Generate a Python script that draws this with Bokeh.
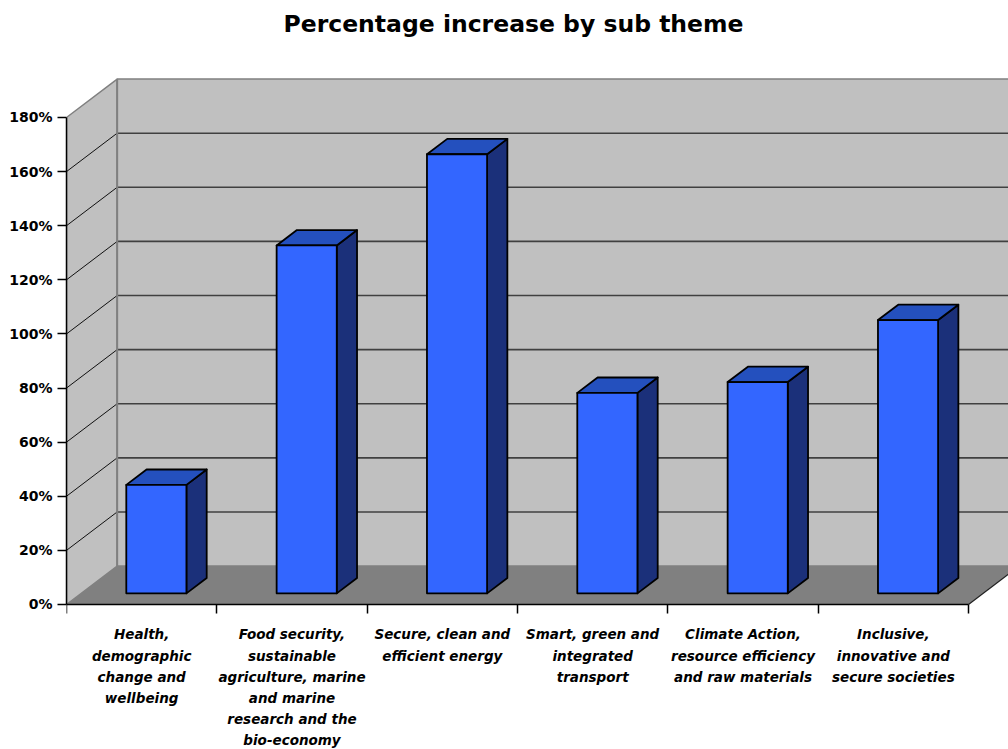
from bokeh.plotting import figure
from bokeh.models import Range1d, LinearAxis, FixedTicker, PrintfTickFormatter, ColumnDataSource
from bokeh.embed import file_html
from bokeh.resources import INLINE

# --- data -------------------------------------------------------------------
sub_themes = [
    "Health,\ndemographic\nchange and\nwellbeing",
    "Food security,\nsustainable\nagriculture, marine\nand marine\nresearch and the\nbio-economy",
    "Secure, clean and\nefficient energy",
    "Smart, green and\nintegrated\ntransport",
    "Climate Action,\nresource efficiency\nand raw materials",
    "Inclusive,\ninnovative and\nsecure societies",
]
increase_pct = [40.1, 128.6, 162.3, 74.1, 78.1, 101.0]
pct_ticks = [0, 20, 40, 60, 80, 100, 120, 140, 160, 180]

# --- oblique "3-D" projection in data units ---------------------------------
N = len(sub_themes)
Y_MAX = pct_ticks[-1]
DEPTH_X = 0.337      # wall depth, in category units
DEPTH_Y = 14.2       # wall depth, in percent units
BAR_W = 0.4          # bar width (category units)
BAR_Z0 = 0.29        # bar front face, as a fraction of the floor depth
BAR_DZ = 0.40        # bar depth, as a fraction of the floor depth

FONT = "DejaVu Sans"

p = figure(width=1008, height=749, output_backend="svg", toolbar_location=None,
           x_range=Range1d(0, 6.266), y_range=Range1d(-53.6, 206.98),
           x_axis_location=None,
           min_border_left=66, min_border_right=0, min_border_top=44, min_border_bottom=0,
           outline_line_color=None, background_fill_color="white",
           border_fill_color="white")
p.grid.visible = False

p.title.text = "Percentage increase by sub theme"
p.title.align = "left"
p.title.offset = 217
p.title.standoff = 14
p.title.text_font = FONT
p.title.text_font_size = "23.5px"
p.title.text_font_style = "bold"
p.title.text_color = "black"

WALL = "#C0C0C0"
FLOOR = "#808080"
EDGE = "#808080"

# back wall
p.patch([DEPTH_X, N + DEPTH_X + 1, N + DEPTH_X + 1, DEPTH_X],
        [DEPTH_Y, DEPTH_Y, Y_MAX + DEPTH_Y, Y_MAX + DEPTH_Y],
        fill_color=WALL, line_color=EDGE, line_width=1.5)
# side wall
p.patch([0, DEPTH_X, DEPTH_X, 0],
        [0, DEPTH_Y, Y_MAX + DEPTH_Y, Y_MAX],
        fill_color=WALL, line_color=EDGE, line_width=1.5)
# floor
p.patch([0, N, N + DEPTH_X, DEPTH_X],
        [0, 0, DEPTH_Y, DEPTH_Y],
        fill_color=FLOOR, line_color=None)
p.line([N, N + DEPTH_X], [0, DEPTH_Y], line_color="#202020", line_width=1.2)

# gridlines: horizontal on the back wall, diagonal on the side wall
grid_vals = pct_ticks[1:-1]
p.segment(x0=[DEPTH_X] * len(grid_vals), y0=[v + DEPTH_Y for v in grid_vals],
          x1=[N + DEPTH_X + 1] * len(grid_vals), y1=[v + DEPTH_Y for v in grid_vals],
          line_color="#404040", line_width=1.6)
p.segment(x0=[0] * len(grid_vals), y0=grid_vals,
          x1=[DEPTH_X] * len(grid_vals), y1=[v + DEPTH_Y for v in grid_vals],
          line_color="#101010", line_width=1.0)
# back wall's left edge redrawn over the gridlines
p.line([DEPTH_X, DEPTH_X], [DEPTH_Y, Y_MAX + DEPTH_Y], line_color=EDGE, line_width=2)

# bars: front, top and right-hand faces
fx0 = BAR_Z0 * DEPTH_X
fy0 = BAR_Z0 * DEPTH_Y
ddx = BAR_DZ * DEPTH_X
ddy = BAR_DZ * DEPTH_Y
front_xs, front_ys, top_xs, top_ys, side_xs, side_ys = [], [], [], [], [], []
for i, v in enumerate(increase_pct):
    x0 = i + 0.5 - BAR_W / 2 + fx0
    x1 = i + 0.5 + BAR_W / 2 + fx0
    yb = fy0
    yt = v + fy0
    front_xs.append([x0, x1, x1, x0])
    front_ys.append([yb, yb, yt, yt])
    top_xs.append([x0, x1, x1 + ddx, x0 + ddx])
    top_ys.append([yt, yt, yt + ddy, yt + ddy])
    side_xs.append([x1, x1 + ddx, x1 + ddx, x1])
    side_ys.append([yb, yb + ddy, yt + ddy, yt])

bars = ColumnDataSource(dict(fx=front_xs, fy=front_ys, tx=top_xs, ty=top_ys,
                             sx=side_xs, sy=side_ys, theme=sub_themes,
                             value=increase_pct))
p.patches("sx", "sy", source=bars, fill_color="#1B307A", line_color="black",
          line_width=1.8, line_join="round")
p.patches("tx", "ty", source=bars, fill_color="#2450BE", line_color="black",
          line_width=1.8, line_join="round")
p.patches("fx", "fy", source=bars, fill_color="#3366FF", line_color="black",
          line_width=1.8, line_join="round")

# value axis
yax = p.yaxis[0]
yax.ticker = FixedTicker(ticks=pct_ticks)
yax.formatter = PrintfTickFormatter(format="%d%%")
yax.bounds = (0, Y_MAX)
yax.major_tick_out = 9
yax.major_tick_in = 0
yax.minor_tick_line_color = None
yax.axis_line_color = "black"
yax.axis_line_width = 1.5
yax.major_tick_line_color = "black"
yax.major_tick_line_width = 1.5
yax.major_label_standoff = 5
yax.major_label_text_font = FONT
yax.major_label_text_font_size = "14px"
yax.major_label_text_font_style = "bold"
yax.major_label_text_color = "black"

# category axis along the front edge of the floor: names centred under each
# slot, minor tick marks between the categories
x_names = LinearAxis(ticker=FixedTicker(ticks=[i + 0.5 for i in range(N)],
                                        minor_ticks=list(range(N + 1))),
                     major_label_overrides={i + 0.5: t for i, t in enumerate(sub_themes)},
                     bounds=(0, N), fixed_location=0,
                     major_tick_out=0, major_tick_in=0, major_tick_line_color=None,
                     minor_tick_out=9, minor_tick_in=0,
                     minor_tick_line_color="black", minor_tick_line_width=1.5,
                     axis_line_color="black", axis_line_width=1.5,
                     major_label_standoff=13,
                     major_label_text_font=FONT, major_label_text_font_size="13.5px",
                     major_label_text_font_style="bold italic",
                     major_label_text_color="black",
                     major_label_text_line_height=1.32)
p.add_layout(x_names, "below")

open("out.html", "w").write(file_html(p, INLINE))
